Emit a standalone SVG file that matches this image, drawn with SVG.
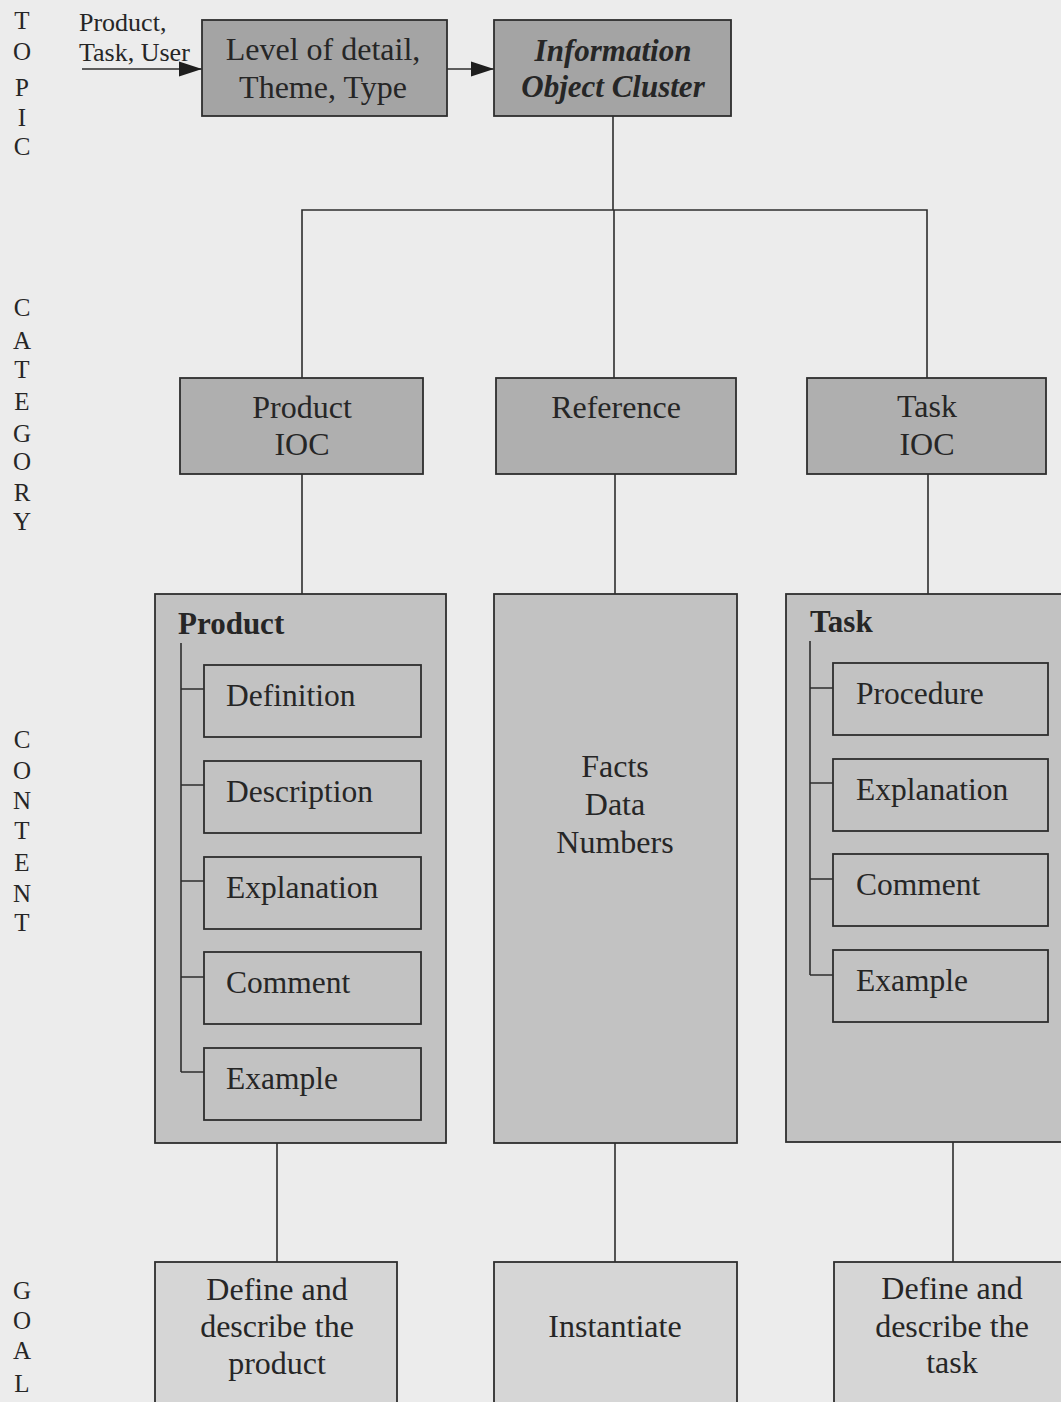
<svg xmlns="http://www.w3.org/2000/svg" width="1061" height="1402" viewBox="0 0 1061 1402">
  <style>
    text { font-family: "Liberation Serif", "Times New Roman", serif; fill: #262626; }
    .lbl { font-size: 32px; text-anchor: middle; }
    .sub { font-size: 31.5px; }
    .head { font-size: 31px; font-weight: bold; }
    .side { font-size: 25px; text-anchor: middle; }
    .note { font-size: 26px; }
    .ioc { font-size: 31px; font-weight: bold; font-style: italic; text-anchor: middle; }
    .box { stroke: #2e2e2e; stroke-width: 1.8; }
    .top { fill: #a4a4a4; }
    .cat { fill: #afafaf; }
    .content { fill: #c2c2c2; }
    .item { fill: #c2c2c2; }
    .goal { fill: #d6d6d6; }
    .wire { stroke: #2e2e2e; stroke-width: 1.6; fill: none; }
  </style>
  <defs>
    <marker id="arrow" markerUnits="userSpaceOnUse" markerWidth="24" markerHeight="18" refX="23" refY="9" orient="auto">
      <path d="M0,1.5 L23,9 L0,16.5 z" fill="#1e1e1e"/>
    </marker>
  </defs>

  <rect x="0" y="0" width="1061" height="1402" fill="#ececec"/>

  <!-- row labels down the left margin -->
  <g id="row-labels">
    <text class="side" x="22" y="29">T</text>
    <text class="side" x="22" y="60">O</text>
    <text class="side" x="22" y="96">P</text>
    <text class="side" x="22" y="126">I</text>
    <text class="side" x="22" y="155">C</text>

    <text class="side" x="22" y="316">C</text>
    <text class="side" x="22" y="349">A</text>
    <text class="side" x="22" y="378">T</text>
    <text class="side" x="22" y="410">E</text>
    <text class="side" x="22" y="442">G</text>
    <text class="side" x="22" y="470">O</text>
    <text class="side" x="22" y="501">R</text>
    <text class="side" x="22" y="530">Y</text>

    <text class="side" x="22" y="748">C</text>
    <text class="side" x="22" y="779">O</text>
    <text class="side" x="22" y="809">N</text>
    <text class="side" x="22" y="839">T</text>
    <text class="side" x="22" y="871">E</text>
    <text class="side" x="22" y="902">N</text>
    <text class="side" x="22" y="931">T</text>

    <text class="side" x="22" y="1299">G</text>
    <text class="side" x="22" y="1329">O</text>
    <text class="side" x="22" y="1359">A</text>
    <text class="side" x="22" y="1392">L</text>
  </g>

  <g id="topic-input">
    <text class="note" x="79" y="31">Product,</text>
    <text class="note" x="79" y="61">Task, User</text>
  </g>

  <!-- connectors -->
  <g id="connectors">
    <line class="wire" x1="82" y1="69" x2="202" y2="69" marker-end="url(#arrow)"/>
    <line class="wire" x1="447" y1="69" x2="494" y2="69" marker-end="url(#arrow)"/>
    <polyline class="wire" points="613,116 613,210"/>
    <polyline class="wire" points="302,378 302,210 927,210 927,378"/>
    <line class="wire" x1="614" y1="210" x2="614" y2="378"/>
    <line class="wire" x1="302" y1="474" x2="302" y2="594"/>
    <line class="wire" x1="615" y1="474" x2="615" y2="594"/>
    <line class="wire" x1="928" y1="474" x2="928" y2="594"/>
    <line class="wire" x1="277" y1="1143" x2="277" y2="1262"/>
    <line class="wire" x1="615" y1="1143" x2="615" y2="1262"/>
    <line class="wire" x1="953" y1="1142" x2="953" y2="1262"/>
  </g>

  <g id="level-of-detail">
    <rect class="box top" x="202" y="20" width="245" height="96"/>
    <text class="lbl" x="323" y="60">Level of detail,</text>
    <text class="lbl" x="323" y="98">Theme, Type</text>
  </g>

  <g id="information-object-cluster">
    <rect class="box top" x="494" y="20" width="237" height="96"/>
    <text class="ioc" x="613" y="61">Information</text>
    <text class="ioc" x="613" y="97">Object Cluster</text>
  </g>

  <g id="product-ioc">
    <rect class="box cat" x="180" y="378" width="243" height="96"/>
    <text class="lbl" x="302" y="418">Product</text>
    <text class="lbl" x="302" y="455">IOC</text>
  </g>

  <g id="reference">
    <rect class="box cat" x="496" y="378" width="240" height="96"/>
    <text class="lbl" x="616" y="418">Reference</text>
  </g>

  <g id="task-ioc">
    <rect class="box cat" x="807" y="378" width="239" height="96"/>
    <text class="lbl" x="927" y="417">Task</text>
    <text class="lbl" x="927" y="455">IOC</text>
  </g>

  <g id="product-content">
    <rect class="box content" x="155" y="594" width="291" height="549"/>
    <text class="head" x="178" y="634">Product</text>
    <path class="wire" d="M181,643 V1072 M181,689 H204 M181,785 H204 M181,881 H204 M181,977 H204 M181,1072 H204"/>
    <rect class="box item" x="204" y="665" width="217" height="72"/>
    <text class="sub" x="226" y="706">Definition</text>
    <rect class="box item" x="204" y="761" width="217" height="72"/>
    <text class="sub" x="226" y="802">Description</text>
    <rect class="box item" x="204" y="857" width="217" height="72"/>
    <text class="sub" x="226" y="898">Explanation</text>
    <rect class="box item" x="204" y="952" width="217" height="72"/>
    <text class="sub" x="226" y="993">Comment</text>
    <rect class="box item" x="204" y="1048" width="217" height="72"/>
    <text class="sub" x="226" y="1089">Example</text>
  </g>

  <g id="reference-content">
    <rect class="box content" x="494" y="594" width="243" height="549"/>
    <text class="lbl" x="615" y="777">Facts</text>
    <text class="lbl" x="615" y="815">Data</text>
    <text class="lbl" x="615" y="853">Numbers</text>
  </g>

  <g id="task-content">
    <rect class="box content" x="786" y="594" width="290" height="548"/>
    <text class="head" x="810" y="632">Task</text>
    <path class="wire" d="M810,641 V975 M810,688 H833 M810,783 H833 M810,879 H833 M810,975 H833"/>
    <rect class="box item" x="833" y="663" width="215" height="72"/>
    <text class="sub" x="856" y="704">Procedure</text>
    <rect class="box item" x="833" y="759" width="215" height="72"/>
    <text class="sub" x="856" y="800">Explanation</text>
    <rect class="box item" x="833" y="854" width="215" height="72"/>
    <text class="sub" x="856" y="895">Comment</text>
    <rect class="box item" x="833" y="950" width="215" height="72"/>
    <text class="sub" x="856" y="991">Example</text>
  </g>

  <g id="goal-product">
    <rect class="box goal" x="155" y="1262" width="242" height="160"/>
    <text class="lbl" x="277" y="1300">Define and</text>
    <text class="lbl" x="277" y="1337">describe the</text>
    <text class="lbl" x="277" y="1374">product</text>
  </g>

  <g id="goal-reference">
    <rect class="box goal" x="494" y="1262" width="243" height="160"/>
    <text class="lbl" x="615" y="1337">Instantiate</text>
  </g>

  <g id="goal-task">
    <rect class="box goal" x="834" y="1262" width="240" height="160"/>
    <text class="lbl" x="952" y="1299">Define and</text>
    <text class="lbl" x="952" y="1337">describe the</text>
    <text class="lbl" x="952" y="1373">task</text>
  </g>
</svg>
